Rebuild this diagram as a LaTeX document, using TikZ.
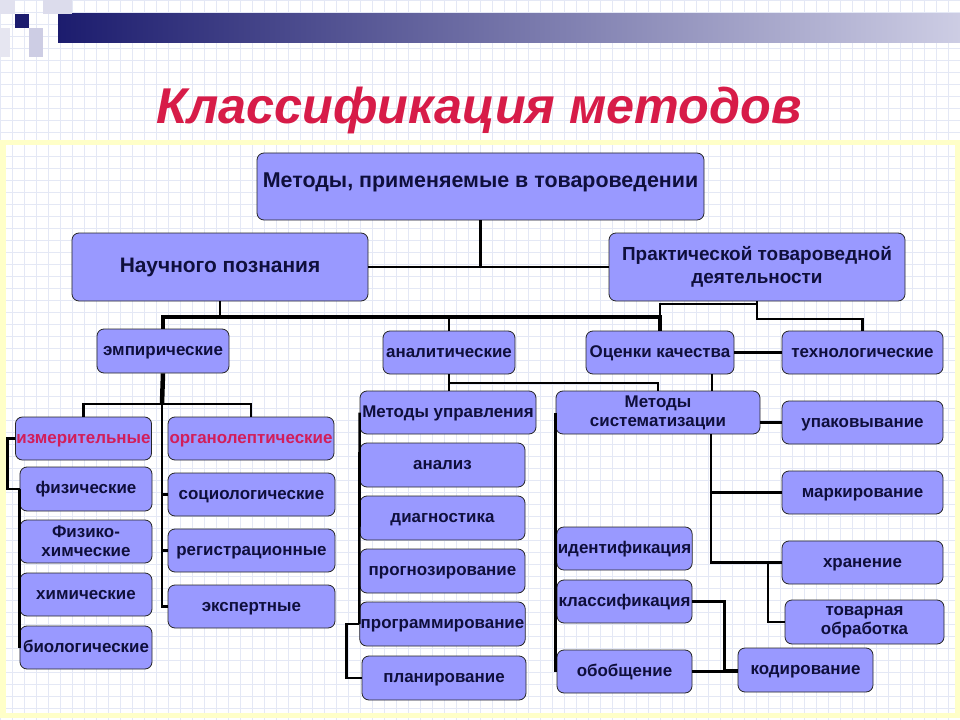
\documentclass[tikz,border=0pt]{standalone}
\usepackage{fontspec}
\setmainfont{Liberation Sans}

\definecolor{boxfill}{RGB}{153,153,255}
\definecolor{boxtext}{RGB}{15,15,60}
\definecolor{redtext}{RGB}{210,30,90}
\definecolor{titlered}{RGB}{215,28,72}
\definecolor{gridline}{RGB}{228,232,245}
\definecolor{navy}{RGB}{28,28,110}
\definecolor{paleblue}{RGB}{205,205,228}
\definecolor{frameyellow}{RGB}{255,255,200}

\begin{document}
\begin{tikzpicture}[x=1bp, y=-1bp,
    box/.style={draw=black!85, line width=0.8bp, rounded corners=7bp,
        fill=boxfill, text=boxtext, align=center, inner sep=1bp,
        minimum width=165bp, minimum height=43bp,
        text height=10bp, text depth=1bp,
        font=\bfseries\fontsize{17}{19}\selectfont},
    twoline/.style={text height=, text depth=},
    bigbox/.style={box, minimum width=296bp, minimum height=68bp,
        font=\bfseries\fontsize{19}{23}\selectfont},
    redbox/.style={box, text=redtext},
    link/.style={line width=2.6bp},
    fatlink/.style={line width=4.5bp}]

    \useasboundingbox (0,0) rectangle (960,720);

    % Paper with grid
    \fill[white] (0,0) rectangle (960,720);
    \draw[gridline, line width=0.5bp, step=12bp] (0,0) grid (960,720);
    \draw[frameyellow, line width=5bp] (3,143) rectangle (957,715);

    % Banner
    \shade[left color=navy, right color=paleblue] (58,14) rectangle (960,43);
    \fill[paleblue!60] (0,0) rectangle (15,14);
    \fill[navy] (15,14) rectangle (29,28);
    \fill[paleblue!70] (43,0) rectangle (72,14);
    \fill[paleblue] (29,28) rectangle (43,57);
    \fill[paleblue!50] (0,28) rectangle (10,57);

    % Title
    \node[text=titlered,
        font=\bfseries\itshape\fontsize{50.5}{54}\selectfont] (title) at (479,110) {Классификация методов};

    % Upper levels
    \node[bigbox, minimum width=447bp, minimum height=67bp,
        text height=15bp, text depth=12bp,
        font=\bfseries\fontsize{21.5}{25}\selectfont] (top_box) at (480.5,186.5) {Методы, применяемые в товароведении};
    \node[bigbox, text height=12bp,
        font=\bfseries\fontsize{21}{25}\selectfont] (sci_box) at (220,267) {Научного познания};
    \node[bigbox, twoline] (prac_box) at (757,267) {Практической товароведной\\деятельности};

    \node[box, minimum width=132bp, minimum height=44bp] (emp_box) at (163,351) {эмпирические};
    \node[box, minimum width=132bp] (ana_box) at (449,352.5) {аналитические};
    \node[box, minimum width=148bp] (qual_box) at (660,352.5) {Оценки качества};
    \node[box, minimum width=161bp] (tech_box) at (862.5,352.5) {технологические};

    % Empirical methods
    \node[redbox, minimum width=133bp] (meas_box) at (83.5,438.5) {измерительные};
    \node[redbox, minimum width=166bp] (org_box) at (251,438.5) {органолептические};
    \node[box, minimum width=132bp, minimum height=44bp] (phys_box) at (86,489) {физические};
    \node[box, twoline, minimum width=132bp] (physchem_box) at (86,541.5) {Физико-\\химческие};
    \node[box, minimum width=132bp] (chem_box) at (86,594.5) {химические};
    \node[box, minimum width=132bp] (bio_box) at (86,647.5) {биологические};
    \node[box, minimum width=167bp] (soc_box) at (251.5,494.5) {социологические};
    \node[box, minimum width=167bp] (reg_box) at (251.5,550.5) {регистрационные};
    \node[box, minimum width=167bp] (expert_box) at (251.5,606.5) {экспертные};

    % Analytical methods
    \node[box, minimum width=176bp] (mng_box) at (448,412.5) {Методы управления};
    \node[box, minimum height=44bp] (analysis_box) at (442.5,465) {анализ};
    \node[box, minimum height=44bp] (diag_box) at (442.5,518) {диагностика};
    \node[box, minimum height=44bp] (forecast_box) at (442.5,571) {прогнозирование};
    \node[box, minimum height=44bp] (progr_box) at (442.5,624) {программирование};
    \node[box, minimum width=164bp, minimum height=44bp] (plan_box) at (444,678) {планирование};

    % Systematization and practical methods
    \node[box, twoline, minimum width=204bp] (sys_box) at (658,412.5) {Методы\\систематизации};
    \node[box, minimum width=135bp] (ident_box) at (624.5,548.5) {идентификация};
    \node[box, minimum width=135bp] (class_box) at (624.5,601.5) {классификация};
    \node[box, minimum width=135bp] (gen_box) at (624.5,671.5) {обобщение};
    \node[box, minimum width=135bp, minimum height=44bp] (code_box) at (805.5,670) {кодирование};
    \node[box, minimum width=161bp] (pack_box) at (862.5,422.5) {упаковывание};
    \node[box, minimum width=161bp] (mark_box) at (862.5,492.5) {маркирование};
    \node[box, minimum width=161bp] (store_box) at (862.5,562.5) {хранение};
    \node[box, twoline, minimum width=159bp, minimum height=44bp] (goods_box) at (864.5,622) {товарная\\обработка};

    % Links between levels
    \draw[link] (top_box.south) -- (top_box.south |- sci_box.east);
    \draw[link] (sci_box) -- (prac_box);

    \coordinate (sci_bus) at (220,317);
    \draw[link] (sci_box.south) -- (sci_bus);
    \draw[fatlink] (emp_box.north) |- (sci_bus) -| (qual_box.north);
    \draw[link] (ana_box.north) -- (ana_box.north |- sci_bus);
    \coordinate (prac_hook) at (757,304);
    \draw[link] (qual_box.north) |- (prac_hook) -- (prac_box.south);
    \coordinate (prac_bus) at (757,319);
    \draw[link] (prac_box.south) -- (prac_bus) -| (tech_box.north);
    \draw[link] (qual_box) -- (tech_box);

    % Links of empirical methods
    \coordinate (emp_bus) at (162,404);
    \draw[fatlink] (emp_box.south) -- (emp_bus);
    \draw[link] (meas_box.north) |- (emp_bus) -| (org_box.north);
    \draw[link] (emp_bus) |- (expert_box.west);
    \draw[link] (soc_box.west) -- (soc_box.west -| emp_bus);
    \draw[link] (reg_box.west) -- (reg_box.west -| emp_bus);
    \draw[link] (meas_box.west) -| ([xshift=-12bp]phys_box.west) -- (phys_box.west);
    \draw[link] (phys_box.west) -- (bio_box.west);

    % Links of analytical methods
    \coordinate (ana_bus) at (448,383);
    \draw[link] (ana_box.south) -- (ana_box.south |- mng_box.north);
    \draw[link] (ana_box.south |- ana_bus) -| (sys_box.north);
    \draw[link] ([xshift=52bp]qual_box.south) -- ([xshift=52bp]qual_box.south |- sys_box.north);
    \draw[link] (mng_box.west) -- (progr_box.west);
    \draw[link] (progr_box.west) -| ([xshift=-15bp]plan_box.west) -- (plan_box.west);

    % Links of systematization
    \draw[link] (sys_box.west) -- (sys_box.west |- gen_box.west);
    \draw[link] (sys_box.east |- pack_box.west) -- (pack_box.west);
    \coordinate (sys_drop) at (711,434);
    \draw[link] (sys_drop) |- (store_box.west);
    \draw[link] (mark_box.west) -- (mark_box.west -| sys_drop);
    \coordinate (store_hook) at (768,562.5);
    \draw[link] (store_hook) |- (goods_box.west);
    \draw[link] (class_box.east) -| ([xshift=-13bp]code_box.west) -- (code_box.west);
    \draw[link] (gen_box.east) -- (gen_box.east -| code_box.west);

\end{tikzpicture}
\end{document}
